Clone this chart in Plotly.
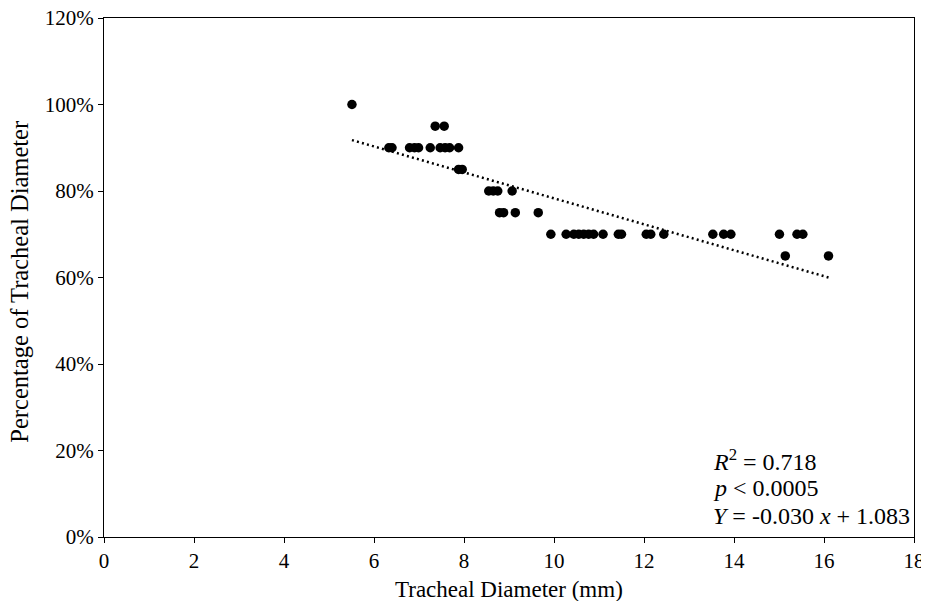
import plotly.graph_objects as go

# Data
x_diam = [5.51,
          7.36, 7.56,
          6.33, 6.40, 6.79, 6.90, 6.99, 7.25, 7.47, 7.58, 7.68, 7.88,
          7.88, 7.96,
          8.55, 8.65, 8.75, 9.07,
          8.79, 8.88, 9.14, 9.65,
          9.93, 10.27, 10.44, 10.55, 10.66, 10.77, 10.88, 11.09, 11.43, 11.50,
          12.05, 12.15, 12.44, 13.53, 13.77, 13.93, 15.01, 15.40, 15.53,
          15.14, 16.10]
y_pct = [1.00,
         0.95, 0.95,
         0.90, 0.90, 0.90, 0.90, 0.90, 0.90, 0.90, 0.90, 0.90, 0.90,
         0.85, 0.85,
         0.80, 0.80, 0.80, 0.80,
         0.75, 0.75, 0.75, 0.75,
         0.70, 0.70, 0.70, 0.70, 0.70, 0.70, 0.70, 0.70, 0.70, 0.70,
         0.70, 0.70, 0.70, 0.70, 0.70, 0.70, 0.70, 0.70, 0.70,
         0.65, 0.65]

slope = -0.030
intercept = 1.083
x_ticks = [0, 2, 4, 6, 8, 10, 12, 14, 16, 18]
y_ticks = [0, 0.2, 0.4, 0.6, 0.8, 1.0, 1.2]

x_fit = [min(x_diam), max(x_diam)]
y_fit = [slope * v + intercept for v in x_fit]

FONT = "Liberation Serif, Times New Roman, serif"

fig = go.Figure()
fig.add_trace(go.Scatter(x=x_fit, y=y_fit, mode="lines",
                         line=dict(color="black", width=2.5, dash="2px,3.2px"),
                         hoverinfo="skip", showlegend=False))
fig.add_trace(go.Scatter(x=x_diam, y=y_pct, mode="markers",
                         marker=dict(color="black", size=9.5),
                         showlegend=False))

axis_common = dict(showgrid=False, zeroline=False, showline=True,
                   linecolor="black", linewidth=1.3, mirror=True,
                   ticks="outside", ticklen=5, tickwidth=1.3, tickcolor="black",
                   ticklabeloverflow="allow",
                   tickfont=dict(family=FONT, size=21, color="black"))

fig.update_xaxes(range=[0, 18], tickvals=x_ticks, **axis_common)
fig.update_yaxes(range=[0, 1.2], tickvals=y_ticks, tickformat=".0%",
                 **axis_common)

# axis titles
fig.add_annotation(x=0.5, y=0, xref="paper", yref="paper",
                   text="Tracheal Diameter (mm)", showarrow=False,
                   xanchor="center", yanchor="middle", yshift=-52,
                   font=dict(family=FONT, size=23, color="black"))
fig.add_annotation(x=0, y=0.492, xref="paper", yref="paper",
                   text="Percentage of Tracheal Diameter", showarrow=False,
                   textangle=-90, xanchor="center", yanchor="middle",
                   xshift=-84,
                   font=dict(family=FONT, size=24.5, color="black"))

ann_lines = ["<i>R</i><sup>2</sup> = 0.718",
             "<i>p</i> &lt; 0.0005",
             "<i>Y</i> = -0.030 <i>x</i> + 1.083"]
ann_y = [0.178, 0.114, 0.048]
for txt, yy in zip(ann_lines, ann_y):
    fig.add_annotation(x=13.54, y=yy, xref="x", yref="y", text=txt,
                       showarrow=False, xanchor="left", yanchor="middle",
                       align="left", xshift=-2,
                       font=dict(family=FONT, size=24, color="black"))

fig.update_layout(width=921, height=593,
                  margin=dict(l=96, r=15, t=10, b=64, autoexpand=False),
                  paper_bgcolor="white", plot_bgcolor="white")

fig.write_html("out.html")
